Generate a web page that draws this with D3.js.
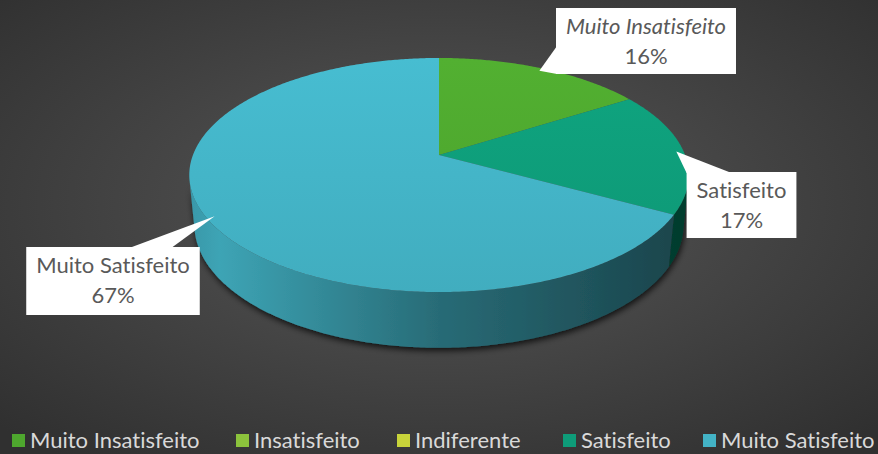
<!DOCTYPE html>
<html>
<head>
<meta charset="utf-8">
<script src="https://cdn.jsdelivr.net/npm/d3@7"></script>
<style>
  html, body { margin: 0; padding: 0; background: #3a3a3a; }
  svg { display: block; }
  text { font-variant-ligatures: none; }
</style>
</head>
<body>
<div id="chart"></div>
<script>
const categories = ["Muito Insatisfeito", "Insatisfeito", "Indiferente", "Satisfeito", "Muito Satisfeito"];
const values = [16, 0, 0, 17, 67];
const percentLabels = ["16%", "0%", "0%", "17%", "67%"];
const colors = ["#4ea72e", "#8cc33c", "#c8d43a", "#0e9c79", "#43b3c6"];

const width = 878;
const height = 454;
const font = "Lato, 'Open Sans', sans-serif";

// camera for the tilted pie
const cx = 439, cy = 155;
const f = 1277, D = 5.19;
const phi = 27.5 * Math.PI / 180;
const thick = 0.23;

function proj(a, r, h) {
  const X = r * Math.sin(a);
  const Z = -r * Math.cos(a);
  const camY = h * Math.cos(phi) - Z * Math.sin(phi);
  const depth = D - (h * Math.sin(phi) + Z * Math.cos(phi));
  return [cx + f * X / depth, cy - f * camY / depth];
}

function arcPoints(a0, a1, r, h) {
  const n = Math.max(2, Math.ceil((a1 - a0) / 0.01));
  return d3.range(n + 1).map(i => proj(a0 + (a1 - a0) * i / n, r, h));
}

const svg = d3.select("#chart")
  .append("svg")
  .attr("width", width)
  .attr("height", height);

const defs = svg.append("defs");

const bg = defs.append("radialGradient")
  .attr("id", "bg")
  .attr("cx", "50%").attr("cy", "45%").attr("r", "70%");
bg.append("stop").attr("offset", 0).attr("stop-color", "#585858");
bg.append("stop").attr("offset", 1).attr("stop-color", "#303030");

svg.append("rect")
  .attr("width", width)
  .attr("height", height)
  .attr("fill", "url(#bg)");

const shadow = defs.append("filter")
  .attr("id", "shadow")
  .attr("x", "-10%").attr("y", "-10%").attr("width", "120%").attr("height", "130%");
shadow.append("feDropShadow")
  .attr("dx", 1).attr("dy", 3)
  .attr("stdDeviation", 3)
  .attr("flood-color", "#000")
  .attr("flood-opacity", 0.75);

const pie = d3.pie()
  .sort(null)
  .value(d => d.value)
  .startAngle(0)
  .endAngle(2 * Math.PI);

const data = categories.map((c, i) => ({ name: c, value: values[i], color: colors[i], pct: percentLabels[i] }));
const arcs = pie(data).filter(d => d.data.value > 0);

// gradients per slice
arcs.forEach((d, i) => {
  const base = d3.color(d.data.color);
  const side = defs.append("linearGradient")
    .attr("id", "side" + i)
    .attr("gradientUnits", "userSpaceOnUse")
    .attr("x1", 190).attr("x2", 690).attr("y1", 0).attr("y2", 0);
  [[0, 0.45], [0.06, 0.25], [0.5, 1.45], [0.95, 2.6], [1, 2.7]].forEach(s => {
    side.append("stop").attr("offset", s[0]).attr("stop-color", base.darker(s[1]).formatHex());
  });
  const top = defs.append("linearGradient")
    .attr("id", "top" + i)
    .attr("gradientUnits", "userSpaceOnUse")
    .attr("x1", 0).attr("x2", 0).attr("y1", 58).attr("y2", 292);
  top.append("stop").attr("offset", 0).attr("stop-color", base.brighter(0.15).formatHex());
  top.append("stop").attr("offset", 1).attr("stop-color", base.darker(0.1).formatHex());
});

const line = d3.line();

// visible part of the rim
const visA0 = Math.acos(-1 / (D * Math.cos(phi)));
const visA1 = 2 * Math.PI - visA0;

const sides = svg.append("g").attr("filter", "url(#shadow)");
arcs.forEach((d, i) => {
  const a0 = Math.max(d.startAngle, visA0);
  const a1 = Math.min(d.endAngle, visA1);
  if (a1 <= a0) return;
  const pts = arcPoints(a0, a1, 1, 0).concat(arcPoints(a0, a1, 1, -thick).reverse());
  sides.append("path")
    .attr("d", line(pts) + "Z")
    .attr("fill", `url(#side${i})`);
});

const tops = svg.append("g");
arcs.forEach((d, i) => {
  const pts = [proj(0, 0, 0)].concat(arcPoints(d.startAngle, d.endAngle, 1, 0));
  tops.append("path")
    .attr("d", line(pts) + "Z")
    .attr("fill", `url(#top${i})`);
});

// data label callouts (box layout)
const labelLayout = {
  "Muito Insatisfeito": { cx: 646, top: 8, h: 66, side: "left", b0: 38, b1: 66, italic: true },
  "Satisfeito": { cx: 741.5, top: 172, h: 66, side: "top", b0: 0, b1: 45 },
  "Muito Satisfeito": { cx: 113, top: 247, h: 68, side: "top", b0: 103, b1: 145 }
};

const labels = svg.append("g");
arcs.forEach(d => {
  const lay = labelLayout[d.data.name];
  if (!lay) return;
  const g = labels.append("g");
  const t1 = g.append("text")
    .attr("x", lay.cx).attr("y", lay.top + 26)
    .attr("text-anchor", "middle")
    .style("font-family", font)
    .style("font-size", "22px")
    .style("font-style", lay.italic ? "italic" : "normal")
    .attr("fill", "#595959")
    .text(d.data.name);
  const w = t1.node().getComputedTextLength() + 20;
  const left = lay.cx - w / 2;
  const mid = (d.startAngle + d.endAngle) / 2;
  const tip = proj(mid, 0.97, 0);
  let tri;
  if (lay.side === "left") {
    tri = [tip, [left + 1, lay.top + lay.b0], [left + 1, lay.top + lay.b1]];
  } else {
    tri = [tip, [left + lay.b0, lay.top + 1], [left + lay.b1, lay.top + 1]];
  }
  g.insert("rect", "text")
    .attr("x", left).attr("y", lay.top)
    .attr("width", w).attr("height", lay.h)
    .attr("fill", "#fff");
  g.insert("path", "text")
    .attr("d", line(tri) + "Z")
    .attr("fill", "#fff");
  g.append("text")
    .attr("x", lay.cx).attr("y", lay.top + 56)
    .attr("text-anchor", "middle")
    .style("font-family", font)
    .style("font-size", "22px")
    .attr("fill", "#595959")
    .text(d.data.pct);
});

// legend, marker x positions as laid out in the reference
const legendX = [12, 236, 397, 563, 703];
const legend = svg.append("g");
data.forEach((d, i) => {
  legend.append("rect")
    .attr("x", legendX[i]).attr("y", 434)
    .attr("width", 13).attr("height", 13)
    .attr("fill", d.color);
  legend.append("text")
    .attr("x", legendX[i] + 18).attr("y", 448)
    .style("font-family", font)
    .style("font-size", "22px")
    .attr("fill", "#d9d9d9")
    .text(d.name);
});
</script>
</body>
</html>
